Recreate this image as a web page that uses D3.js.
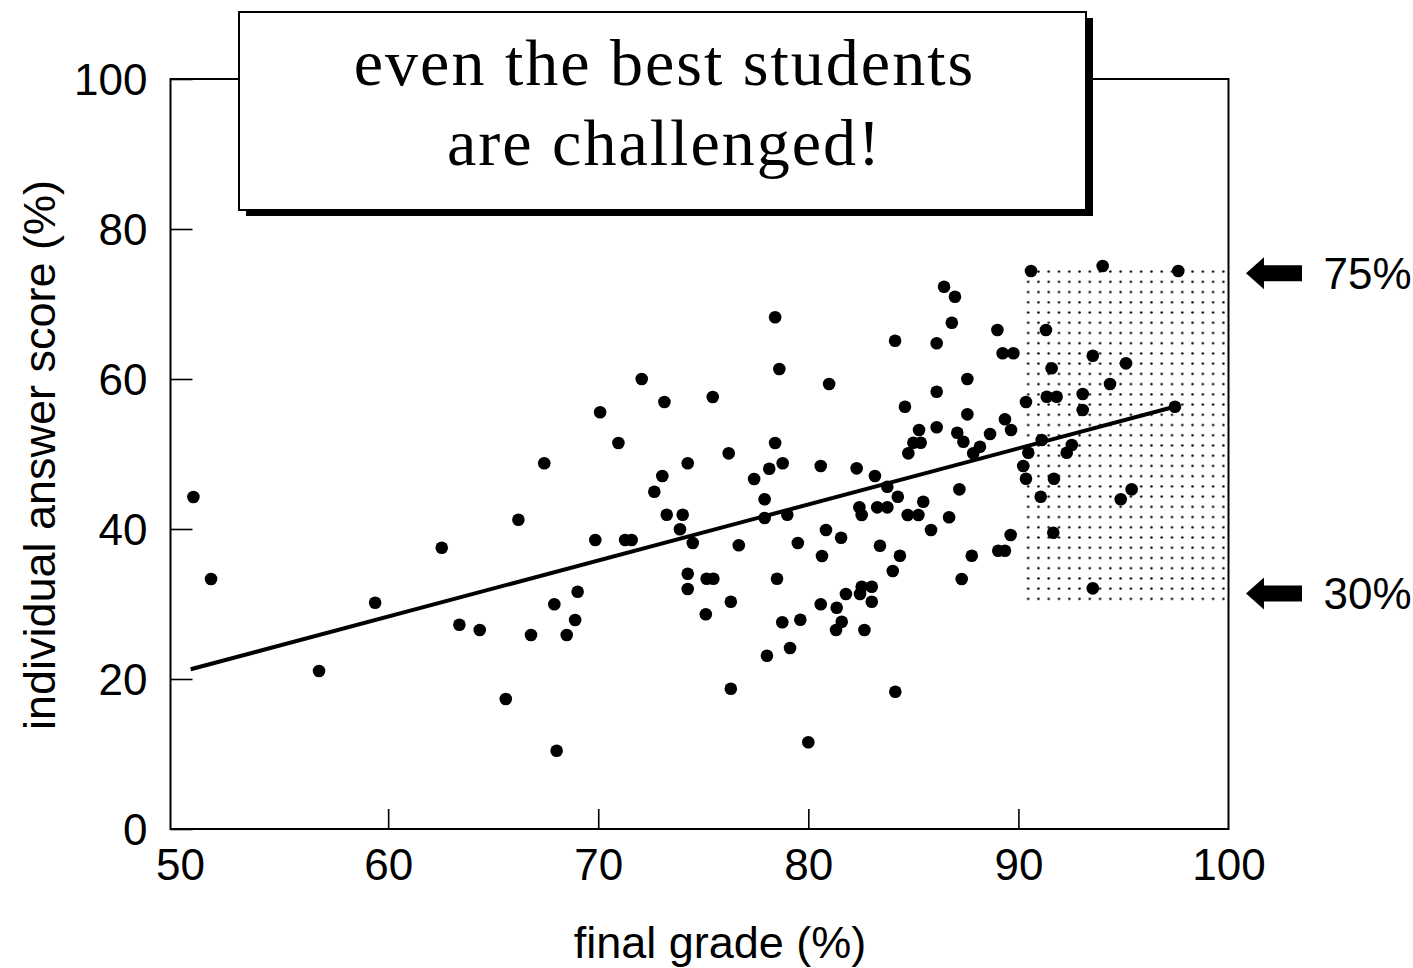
<!DOCTYPE html>
<html>
<head>
<meta charset="utf-8">
<script src="https://cdn.jsdelivr.net/npm/d3@7"></script>
<style>
  html, body { margin: 0; padding: 0; background: #fff; }
  svg { display: block; }
</style>
</head>
<body>
<svg id="chart" width="1413" height="968"></svg>
<script>
// ---------------- data ----------------
const finalGrade = [
  50.73, 51.57, 56.71, 59.38, 62.55, 63.39, 64.36, 65.60, 66.20, 66.80, 67.43, 67.91, 68.02, 68.50, 68.90, 69.02, 69.86,
  70.09, 70.96, 71.28, 71.59, 72.07, 72.67, 73.05, 73.15, 73.26, 74.02, 73.89, 74.50, 74.26, 74.26, 74.26, 75.16, 75.48, 75.12, 75.45,
  76.21, 76.31, 76.31, 76.69, 77.42, 77.92, 77.92, 78.14, 78.42, 78.42, 78.51, 78.62, 78.78, 78.76, 79.00, 79.13, 78.03, 79.50, 79.62,
  80.00, 80.59, 80.99, 82.30, 83.17, 83.76, 84.26, 82.43, 82.54, 83.28, 83.76, 85.47, 84.73, 85.24, 87.19, 86.70, 85.84, 80.84, 81.56,
  83.41, 84.36, 80.65, 84.02, 87.78, 87.30, 89.63, 89.04, 89.36, 80.59, 81.35, 81.79, 82.54, 83.02, 82.46, 83.02, 81.59, 81.32, 82.67,
  84.14, 86.46, 86.98, 86.83, 89.00, 84.13, 86.11, 89.25, 89.76, 87.57, 86.11, 84.60, 87.57, 85.27, 86.11, 87.09, 88.65, 89.36, 89.65,
  85.00, 85.35, 84.76, 87.38, 88.17, 87.85,
  90.60, 94.01, 97.61, 91.31, 93.54, 95.12, 91.58, 94.36, 90.36, 91.35, 91.82, 93.06, 93.06, 97.45, 91.11, 90.47, 90.23, 90.36,
  92.54, 92.30, 91.69, 91.06, 95.39, 94.87, 91.66, 93.54
];
const answerScore = [
  44.27, 33.33, 21.07, 30.17, 37.51, 27.24, 26.53, 17.33, 41.24, 25.87, 48.76, 29.96, 10.44, 25.87, 27.87, 31.64, 38.53,
  55.56, 51.47, 38.53, 38.53, 60.0, 44.97, 47.07, 56.93, 41.91, 41.91, 39.96, 38.13, 48.76, 34.04, 32.0, 33.37, 33.37, 28.63, 57.6,
  50.09, 30.31, 18.71, 37.83, 46.67, 43.96, 41.47, 48.04, 51.47, 68.23, 33.37, 61.33, 48.76, 27.56, 41.91, 24.13, 23.11, 38.13, 27.91,
  11.56, 48.4, 59.33, 48.09, 47.07, 45.64, 44.31, 42.89, 41.87, 42.89, 42.89, 43.64, 41.87, 41.87, 45.29, 41.56, 39.87, 39.87, 38.84,
  37.77, 36.44, 36.4, 34.4, 36.44, 33.33, 39.2, 37.11, 37.11, 29.96, 29.51, 31.33, 32.31, 32.31, 31.33, 30.31, 27.64, 26.53, 26.53,
  18.31, 72.31, 70.97, 67.51, 66.53, 65.11, 64.76, 63.43, 63.43, 60.0, 58.31, 56.31, 55.29, 53.2, 53.56, 52.84, 52.67, 54.63, 53.2,
  51.51, 51.51, 50.09, 51.64, 50.97, 50.09,
  74.4, 75.07, 74.4, 66.53, 63.11, 62.09, 61.43, 59.33, 56.93, 57.64, 57.64, 58.0, 55.87, 56.31, 51.87, 50.17, 48.4, 46.71,
  51.2, 50.17, 46.71, 44.31, 45.29, 43.96, 39.51, 32.09
];
// regression line end points
const fitX = [50.6, 97.7];
const fitY = [21.3, 56.5];
// shaded "best students" band
const bandX = [90.22, 100];
const bandY = [30, 75];
// arrows / annotations
const arrowLabels = ["75%", "30%"];
const arrowY = [74.1, 31.4];
// ticks
const xTickLabels = [50, 60, 70, 80, 90, 100];
const yTickLabels = [0, 20, 40, 60, 80, 100];
const titleLines = ["even the best students", "are challenged!"];
const xTitle = "final grade (%)";
const yTitle = "individual answer score (%)";

// ---------------- layout ----------------
const svg = d3.select("#chart");
const pLeft = 170.5, pRight = 1228.5, pTop = 79, pBottom = 829;
const x = d3.scaleLinear().domain([49.64, 100]).range([pLeft, pRight]);
const y = d3.scaleLinear().domain([0, 100]).range([pBottom, pTop]);
const sansFont = "'Liberation Sans', Arial, Helvetica, sans-serif";

// stipple pattern for the band
const bx0 = x(bandX[0]), bx1 = x(bandX[1]);
const by0 = y(bandY[1]), by1 = y(bandY[0]);
const pw = (bx1 - bx0) / 20, ph = (by1 - by0) / 33;
const defs = svg.append("defs");
const pat = defs.append("pattern")
  .attr("id", "stipple")
  .attr("patternUnits", "userSpaceOnUse")
  .attr("x", bx0).attr("y", by0)
  .attr("width", pw).attr("height", ph);
pat.append("circle").attr("cx", pw / 2).attr("cy", ph / 2).attr("r", 1.25).attr("fill", "#000");

svg.append("rect")
  .attr("x", bx0).attr("y", by0)
  .attr("width", bx1 - bx0).attr("height", by1 - by0)
  .attr("fill", "url(#stipple)");

// frame
svg.append("rect")
  .attr("x", pLeft).attr("y", pTop)
  .attr("width", pRight - pLeft).attr("height", pBottom - pTop)
  .attr("fill", "none").attr("stroke", "#000").attr("stroke-width", 2);

// y axis (ticks pointing inward)
const yAxis = svg.append("g")
  .attr("transform", `translate(${pLeft},0)`)
  .call(d3.axisLeft(y).tickValues(yTickLabels).tickSize(-22).tickPadding(23).tickFormat(d3.format("d")));
yAxis.select(".domain").remove();
yAxis.selectAll("line").attr("stroke-width", 1.6);
yAxis.selectAll("text").attr("font-family", sansFont).attr("font-size", 44).attr("fill", "#000").attr("dy", "0.36em");

// x axis (ticks pointing inward)
const xAxis = svg.append("g")
  .attr("transform", `translate(0,${pBottom})`)
  .call(d3.axisBottom(x).tickValues(xTickLabels).tickSize(-20).tickPadding(20).tickFormat(d3.format("d")));
xAxis.select(".domain").remove();
xAxis.selectAll(".tick").filter(d => d === 50 || d === 100).select("line").remove();
xAxis.selectAll("line").attr("stroke-width", 1.6);
xAxis.selectAll("text").attr("font-family", sansFont).attr("font-size", 44).attr("fill", "#000")
  .attr("dx", d => d === 50 ? 2 : 0);

// regression line
svg.append("line")
  .attr("x1", x(fitX[0])).attr("y1", y(fitY[0]))
  .attr("x2", x(fitX[1])).attr("y2", y(fitY[1]))
  .attr("stroke", "#000").attr("stroke-width", 4);

// points
svg.append("g").selectAll("circle")
  .data(d3.zip(finalGrade, answerScore))
  .join("circle")
  .attr("cx", d => x(d[0]))
  .attr("cy", d => y(d[1]))
  .attr("r", 6.3)
  .attr("fill", "#000");

// title box with drop shadow
const boxX = 239, boxY = 12, boxW = 847, boxH = 198;
svg.append("rect").attr("x", boxX + 7).attr("y", boxY + 6).attr("width", boxW).attr("height", boxH).attr("fill", "#000");
svg.append("rect").attr("x", boxX).attr("y", boxY).attr("width", boxW).attr("height", boxH)
  .attr("fill", "#fff").attr("stroke", "#000").attr("stroke-width", 2);
svg.append("g").selectAll("text")
  .data(titleLines)
  .join("text")
  .attr("x", boxX + boxW / 2 + 2)
  .attr("y", (d, i) => 85 + i * 80)
  .attr("text-anchor", "middle")
  .attr("font-family", "'Liberation Serif', 'Times New Roman', serif")
  .attr("font-size", 66)
  .attr("letter-spacing", 2)
  .attr("fill", "#000")
  .text(d => d);

// axis titles
svg.append("text")
  .attr("x", 720).attr("y", 958)
  .attr("text-anchor", "middle")
  .attr("font-family", sansFont).attr("font-size", 45)
  .text(xTitle);
svg.append("text")
  .attr("transform", `translate(55,${(pTop + pBottom) / 2 + 1}) rotate(-90)`)
  .attr("text-anchor", "middle")
  .attr("font-family", sansFont).attr("font-size", 45)
  .text(yTitle);

// arrows with labels
const tipX = pRight + 17.5, tailX = pRight + 73.5, headLen = 18, headHalf = 16, shaftHalf = 8;
const arrows = svg.append("g").selectAll("g")
  .data(d3.zip(arrowLabels, arrowY))
  .join("g")
  .attr("transform", d => `translate(0,${y(d[1])})`);
arrows.append("path")
  .attr("d", `M${tipX},0 L${tipX + headLen},${-headHalf} L${tipX + headLen},${-shaftHalf} L${tailX},${-shaftHalf} L${tailX},${shaftHalf} L${tipX + headLen},${shaftHalf} L${tipX + headLen},${headHalf} Z`)
  .attr("fill", "#000");
arrows.append("text")
  .attr("x", pRight + 95)
  .attr("y", 0)
  .attr("dy", "0.36em")
  .attr("font-family", sansFont).attr("font-size", 44)
  .text(d => d[0]);
</script>
</body>
</html>
